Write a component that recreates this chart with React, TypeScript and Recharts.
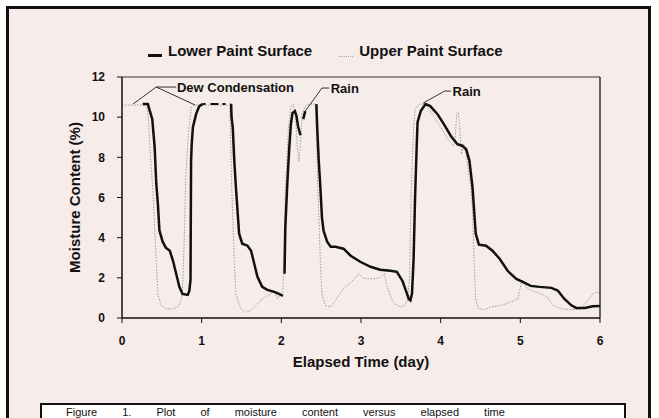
import React from "react";
import {
  LineChart,
  Line,
  XAxis,
  YAxis,
  ReferenceLine,
  ReferenceDot,
} from "recharts";

// Lower paint surface (thick black); null = break in the trace
const lowerDays = [
  0.26, 0.325, 0.35, 0.38, 0.41, 0.43, 0.45, 0.47, 0.51, 0.55, 0.6, 0.64, 0.68, 0.72, 0.76, 0.825, 0.845,
  0.86, 0.867, 0.875, 0.89, 0.93, 0.97, 1.01, 1.2, 1.37, 1.375, 1.39, 1.41, 1.43, 1.45, 1.47, 1.51, 1.575, 1.62,
  1.66, 1.7, 1.76, 1.825, 1.91, 1.97, 2.02, 2.025, 2.04, 2.05, 2.075, 2.1, 2.12, 2.14, 2.17, 2.19, 2.21,
  2.24, 2.25, 2.275, 2.3, 2.35, 2.44, 2.45, 2.47, 2.49, 2.51, 2.53, 2.575, 2.62, 2.68, 2.78, 2.87, 2.99,
  3.12, 3.24, 3.37, 3.45, 3.52, 3.56, 3.6, 3.62, 3.64, 3.66, 3.68, 3.7, 3.71, 3.75, 3.81, 3.87, 3.96, 4.04,
  4.13, 4.21, 4.27, 4.32, 4.36, 4.4, 4.42, 4.44, 4.48, 4.57, 4.65, 4.74, 4.84, 4.95, 5.03, 5.13, 5.24, 5.39,
  5.47, 5.55, 5.64, 5.7, 5.81, 5.91, 6.0,
];
const lowerValues = [
  10.65, 10.65, 10.3, 9.9, 8.5, 6.7, 5.7, 4.35, 3.8, 3.5, 3.35, 2.85, 2.2, 1.55, 1.2, 1.15, 1.35,
  1.9, 7.8, 8.65, 9.5, 10.15, 10.55, 10.65, null, 10.65, 10.0, 9.5, 7.8, 6.5, 5.35, 4.2, 3.7, 3.6, 3.35,
  2.7, 2.05, 1.55, 1.4, 1.3, 1.2, 1.1, null, 2.2, 4.5, 6.7, 8.5, 9.65, 10.2, 10.3, 10.05, 9.55,
  9.1, null, 9.9, 10.3, null, 10.65, 9.5, 7.8, 6.5, 5.0, 4.35, 3.8, 3.55, 3.55, 3.45, 3.1, 2.8,
  2.55, 2.4, 2.35, 2.3, 1.85, 1.4, 0.95, 0.88, 1.2, 2.9, 6.2, 8.65, 9.75, 10.3, 10.65, 10.55, 10.15, 9.65,
  9.05, 8.65, 8.58, 8.4, 7.85, 6.5, 5.35, 4.2, 3.65, 3.6, 3.35, 2.95, 2.35, 1.95, 1.8, 1.6, 1.55, 1.5,
  1.37, 0.96, 0.63, 0.5, 0.5, 0.58, 0.6,
];

// the lower trace is broken (dashed) along the saturated plateau
const lowerPlateauDays = [1.01, 1.37];
const lowerPlateauValues = [10.65, 10.65];

// Upper paint surface (light dotted)
const upperDays = [
  0, 0.31, 0.33, 0.35, 0.39, 0.43, 0.45, 0.49, 0.55, 0.64, 0.7, 0.74, 0.76, 0.78, 0.8, 0.83, 0.87, 0.91,
  1.35, 1.36, 1.38, 1.41, 1.43, 1.49, 1.55, 1.62, 1.68, 1.74, 1.8, 1.87, 1.91, 1.95, 1.99, 2.02, 2.05,
  2.09, 2.12, 2.15, 2.18, 2.2, 2.22, 2.24, 2.26, 2.3, 2.35, 2.43, 2.44, 2.46, 2.49, 2.51, 2.55, 2.62,
  2.68, 2.76, 2.85, 2.93, 2.97, 3.02, 3.08, 3.16, 3.24, 3.29, 3.33, 3.39, 3.45, 3.52, 3.58, 3.61, 3.63,
  3.66, 3.68, 3.73, 3.81, 3.87, 3.96, 4.04, 4.11, 4.15, 4.18, 4.2, 4.22, 4.24, 4.26, 4.29, 4.32, 4.36,
  4.38, 4.4, 4.42, 4.44, 4.48, 4.55, 4.63, 4.76, 4.88, 4.97, 5.01, 5.03, 5.09, 5.18, 5.26, 5.34, 5.41,
  5.51, 5.64, 5.76, 5.85, 5.91, 5.96, 6.0,
];
const upperValues = [
  10.6, 10.6, 10.0, 8.5, 6.2, 2.85, 1.2, 0.63, 0.46, 0.46, 0.55, 0.88, 1.5, 3.7, 7.0, 9.0, 10.5, 10.6,
  10.6, 9.5, 6.2, 2.85, 1.2, 0.46, 0.3, 0.38, 0.63, 0.88, 1.05, 1.2, 1.37, 0.96, 1.2, 1.37, 6.2,
  9.5, 10.5, 10.65, 10.0, 8.5, 7.8, 8.65, 10.15, 10.55, 10.65, 10.65, 9.5, 6.2, 2.85, 1.2, 0.63, 0.55,
  0.88, 1.37, 1.7, 2.0, 2.2, 2.0, 1.95, 1.95, 2.0, 2.2, 1.55, 0.88, 0.63, 0.55, 0.8, 2.0, 6.2,
  9.5, 10.4, 10.65, 10.65, 10.3, 9.75, 9.25, 8.8, 8.58, 8.8, 10.15, 10.25, 9.5, 8.15, 8.65, 8.15, 7.0,
  6.5, 5.35, 2.85, 0.88, 0.46, 0.41, 0.55, 0.63, 0.8, 0.96, 1.7, 1.87, 1.45, 1.3, 1.2, 1.05, 0.63,
  0.46, 0.41, 0.46, 0.88, 1.2, 1.3, 1.2,
];

const xTicks = [0, 1, 2, 3, 4, 5, 6];
const yTicks = [0, 2, 4, 6, 8, 10, 12];

const lowerData = lowerDays.map((d, i) => ({ day: d, value: lowerValues[i] }));
const plateauData = lowerPlateauDays.map((d, i) => ({ day: d, value: lowerPlateauValues[i] }));
const upperData = upperDays.map((d, i) => ({ day: d, value: upperValues[i] }));

const font = "'Liberation Sans', Arial, sans-serif";
const bg = "#f6ecea";
const ink = "#111";
const tickStyle = { fill: ink, fontSize: 12, fontWeight: 700, fontFamily: font };
const noteStyle = { fill: ink, fontSize: 13, fontWeight: 700, fontFamily: font };

const App: React.FC = () => {
  return (
    <div
      style={{
        position: "relative",
        width: 659,
        height: 418,
        overflow: "hidden",
        background: "#fff",
        fontFamily: font,
      }}
    >
      <style>{`body{margin:0}`}</style>
      <div
        style={{
          position: "absolute",
          left: 6,
          top: 6,
          width: 639,
          height: 440,
          border: `3px solid ${ink}`,
          background: bg,
        }}
      />

      {/* legend */}
      <div
        style={{
          position: "absolute",
          top: 42,
          left: 148,
          display: "flex",
          alignItems: "center",
          fontSize: 15,
          fontWeight: 700,
          color: ink,
          whiteSpace: "nowrap",
        }}
      >
        <span style={{ width: 14, height: 3, background: ink, marginTop: 9, marginRight: 6 }} />
        <span>Lower Paint Surface</span>
        <span
          style={{
            width: 14,
            borderTop: "1px dotted #aaa",
            marginTop: 12,
            marginLeft: 27,
            marginRight: 6,
          }}
        />
        <span>Upper Paint Surface</span>
      </div>

      <div style={{ position: "absolute", left: 0, top: 0 }}>
        <LineChart
          width={659}
          height={418}
          margin={{ top: 77, right: 59, left: 28, bottom: 12 }}
        >
          <XAxis
            type="number"
            dataKey="day"
            domain={[0, 6]}
            ticks={xTicks}
            allowDataOverflow
            height={88}
            tickSize={5}
            tickMargin={13}
            tick={tickStyle}
            stroke={ink}
            axisLine={{ stroke: ink, strokeWidth: 1.5 }}
            tickLine={{ stroke: ink }}
            label={{
              value: "Elapsed Time (day)",
              position: "center",
              style: { fill: ink, fontSize: 15, fontWeight: 700, fontFamily: font },
            }}
          />
          <YAxis
            type="number"
            dataKey="value"
            domain={[0, 12]}
            ticks={yTicks}
            allowDataOverflow
            width={94}
            tickSize={5}
            tickMargin={12}
            tick={tickStyle}
            stroke={ink}
            axisLine={{ stroke: ink, strokeWidth: 1.5 }}
            tickLine={{ stroke: ink }}
            label={{
              value: "Moisture Content (%)",
              angle: -90,
              position: "center",
              style: { fill: ink, fontSize: 15, fontWeight: 700, fontFamily: font },
            }}
          />
          <ReferenceLine y={12} stroke="#333" strokeWidth={1} />
          <ReferenceLine x={6} stroke="#333" strokeWidth={1.5} />

          <Line
            data={upperData}
            dataKey="value"
            type="linear"
            stroke="#9d9d9d"
            strokeWidth={1}
            strokeDasharray="1.5 1.5"
            dot={false}
            isAnimationActive={false}
          />
          <Line
            data={plateauData}
            dataKey="value"
            type="linear"
            stroke={ink}
            strokeWidth={2}
            strokeDasharray="3 5 8 4"
            dot={false}
            isAnimationActive={false}
          />
          <Line
            data={lowerData}
            dataKey="value"
            type="linear"
            stroke={ink}
            strokeWidth={2.5}
            dot={false}
            connectNulls={false}
            isAnimationActive={false}
          />

          {/* annotation pointers */}
          <ReferenceLine segment={[{ x: 0.14, y: 10.66 }, { x: 0.43, y: 11.5 }]} stroke="#333" strokeWidth={1} />
          <ReferenceLine segment={[{ x: 0.43, y: 11.5 }, { x: 0.92, y: 10.6 }]} stroke="#333" strokeWidth={1} />
          <ReferenceLine segment={[{ x: 0.43, y: 11.5 }, { x: 0.68, y: 11.5 }]} stroke="#333" strokeWidth={1} />
          <ReferenceLine segment={[{ x: 2.3, y: 10.3 }, { x: 2.51, y: 11.45 }]} stroke="#333" strokeWidth={1} />
          <ReferenceLine segment={[{ x: 2.51, y: 11.45 }, { x: 2.6, y: 11.45 }]} stroke="#333" strokeWidth={1} />
          <ReferenceLine segment={[{ x: 3.78, y: 10.7 }, { x: 4.05, y: 11.3 }]} stroke="#333" strokeWidth={1} />
          <ReferenceLine segment={[{ x: 4.05, y: 11.3 }, { x: 4.13, y: 11.3 }]} stroke="#333" strokeWidth={1} />

          <ReferenceDot
            x={0.69}
            y={11.5}
            r={0}
            fill="none"
            stroke="none"
            label={{ value: "Dew Condensation", position: "right", offset: 0, style: noteStyle }}
          />
          <ReferenceDot
            x={2.62}
            y={11.45}
            r={0}
            fill="none"
            stroke="none"
            label={{ value: "Rain", position: "right", offset: 0, style: noteStyle }}
          />
          <ReferenceDot
            x={4.15}
            y={11.3}
            r={0}
            fill="none"
            stroke="none"
            label={{ value: "Rain", position: "right", offset: 0, style: noteStyle }}
          />
        </LineChart>
      </div>

      {/* caption box at the bottom edge */}
      <div
        style={{
          position: "absolute",
          left: 40,
          top: 403,
          width: 586,
          height: 40,
          border: `2px solid ${ink}`,
          background: "#fff",
          fontSize: 11,
          lineHeight: "12px",
          color: ink,
          whiteSpace: "nowrap",
          paddingLeft: 24,
          paddingTop: 1,
          wordSpacing: 22,
          boxSizing: "border-box",
        }}
      >
        Figure 1. Plot of moisture content versus elapsed time
      </div>
    </div>
  );
};

export default App;
